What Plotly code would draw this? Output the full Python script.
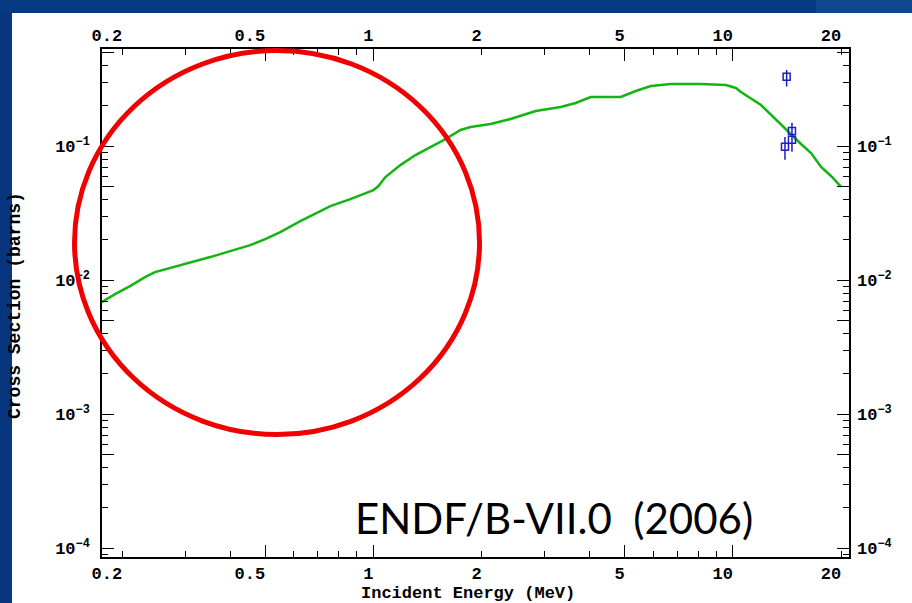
import plotly.graph_objects as go

# ENDF/B-VII.0 evaluated cross section
energy_mev = [0.1758, 0.1911, 0.2104, 0.2316, 0.2470, 0.2720, 0.3092, 0.3516, 0.3996, 0.4544,
              0.5000, 0.5507, 0.6261, 0.7117, 0.7590, 0.8628, 1.0, 1.033, 1.080, 1.189,
              1.309, 1.441, 1.587, 1.747, 1.863, 2.118, 2.407, 2.827, 3.319, 3.653,
              4.022, 4.876, 5.369, 5.911, 6.721, 8.145, 9.561, 10.19, 10.53, 11.97,
              13.18, 14.51, 15.47, 16.50, 17.59, 18.75, 20.0]
xs_barns = [6.88e-3, 7.89e-3, 9.05e-3, 1.057e-2, 1.151e-2, 1.233e-2, 1.343e-2, 1.490e-2, 1.651e-2, 1.831e-2,
            2.030e-2, 2.289e-2, 2.766e-2, 3.284e-2, 3.578e-2, 4.036e-2, 4.711e-2, 5.047e-2, 5.890e-2, 7.239e-2,
            8.60e-2, 9.86e-2, 0.1132, 0.1323, 0.1393, 0.1466, 0.1598, 0.1834, 0.1965, 0.2104,
            0.2333, 0.2333, 0.2587, 0.2818, 0.2917, 0.2917, 0.2867, 0.2723, 0.2542, 0.2033,
            0.1572, 0.1214, 0.1040, 0.0891, 0.0701, 0.0600, 0.0497]

# Experimental points
exp_energy = [14.11, 13.96, 14.60, 14.60]
exp_xs = [0.331, 0.0993, 0.130, 0.112]
exp_err_plus = [0.040, 0.018, 0.020, 0.010]
exp_err_minus = [0.052, 0.020, 0.010, 0.021]

# Axis ticks
x_label_vals = [0.2, 0.5, 1, 2, 5, 10, 20]
x_label_text = ["0.2", "0.5", "1", "2", "5", "10", "20"]
x_short_vals = [0.3, 0.4, 0.6, 0.7, 0.8, 0.9, 3, 4, 6, 7, 8, 9]
x_long_vals = [0.5, 1, 5, 10]
y_decades = [1e-4, 1e-3, 1e-2, 1e-1]
y_label_text = ["10<sup>\u22124</sup>", "10<sup>\u22123</sup>", "10<sup>\u22122</sup>", "10<sup>\u22121</sup>"]
y_long_vals = [1e-4, 5e-4, 1e-3, 5e-3, 1e-2, 5e-2, 1e-1, 5e-1]

x_range = [-0.755, 1.323]
y_range = [-4.065, -0.274]

# tick arrays (labels padded with nbsp so they sit just left of the tick)
x_tvals = x_label_vals + x_short_vals
x_ttext = [t + "\u00a0" * len(t) for t in x_label_text] + [""] * len(x_short_vals)
x_label_padded = [t + "\u00a0" * len(t) for t in x_label_text]
y_short_vals = [9e-5] + [m * d for d in y_decades for m in range(2, 10) if m * d < 0.53]
y_tvals = y_decades + y_short_vals
y_ttext = y_label_text + [""] * len(y_short_vals)

tickfont = dict(family="Liberation Mono", size=17, color="black", weight="bold")
blue = "#1c1cc8"

fig = go.Figure()
fig.add_trace(go.Scatter(x=energy_mev, y=xs_barns, mode="lines",
                         line=dict(color="#14b414", width=2.5), showlegend=False, hoverinfo="x+y"))
fig.add_trace(go.Scatter(x=exp_energy, y=exp_xs, mode="markers",
                         marker=dict(symbol="square-open", size=7, color=blue,
                                     line=dict(width=1.5, color=blue)),
                         error_y=dict(type="data", array=exp_err_plus, arrayminus=exp_err_minus,
                                      color=blue, thickness=1.5, width=0),
                         showlegend=False))
# transparent copies so the label axes (top/right) and long-tick axes are drawn
fig.add_trace(go.Scatter(x=energy_mev, y=xs_barns, mode="lines", xaxis="x2", yaxis="y2",
                         line=dict(width=0), opacity=0, hoverinfo="skip", showlegend=False))
fig.add_trace(go.Scatter(x=energy_mev, y=xs_barns, mode="lines", xaxis="x3", yaxis="y3",
                         line=dict(width=0), opacity=0, hoverinfo="skip", showlegend=False))

common_x = dict(type="log", range=x_range, showgrid=False, zeroline=False, tickmode="array",
                tickcolor="black", tickwidth=1, tickfont=tickfont, fixedrange=True)
common_y = dict(type="log", range=y_range, showgrid=False, zeroline=False, tickmode="array",
                tickcolor="black", tickwidth=1, tickfont=tickfont, fixedrange=True)

fig.update_layout(
    width=912, height=603,
    margin=dict(l=102, r=63, t=49, b=46),
    paper_bgcolor="white", plot_bgcolor="white",
    xaxis=dict(common_x, side="bottom", anchor="y", tickvals=x_tvals, ticktext=x_ttext,
               ticks="inside", ticklen=6, mirror="ticks",
               showline=True, linecolor="black", linewidth=1.5),
    xaxis2=dict(common_x, side="top", anchor="y2", overlaying="x", tickvals=x_label_vals,
                ticktext=x_label_padded, ticks="", showline=False, ticklabelstandoff=4),
    xaxis3=dict(common_x, side="bottom", anchor="y3", overlaying="x", tickvals=x_long_vals,
                ticks="inside", mirror="ticks", showticklabels=False, ticklen=12, showline=False),
    yaxis=dict(common_y, side="left", anchor="x", tickvals=y_tvals, ticktext=y_ttext,
               ticks="inside", ticklen=6, mirror="ticks", ticklabelstandoff=7,
               showline=True, linecolor="black", linewidth=1.5),
    yaxis2=dict(common_y, side="right", anchor="x2", overlaying="y", tickvals=y_decades,
                ticktext=y_label_text, ticks="", showline=False, ticklabelstandoff=7),
    yaxis3=dict(common_y, side="left", anchor="x3", overlaying="y", tickvals=y_long_vals,
                ticks="inside", mirror="ticks", showticklabels=False, ticklen=12, showline=False),
    shapes=[
        dict(type="rect", xref="paper", yref="paper", x0=-0.2, x1=-0.1205, y0=-0.2, y1=1.2,
             fillcolor="#08367e", line=dict(width=0), layer="below"),
        dict(type="rect", xref="paper", yref="paper", x0=-0.2, x1=1.2, y0=1.0709, y1=1.2,
             fillcolor="#083a84", line=dict(width=0), layer="below"),
        dict(type="rect", xref="paper", yref="paper", x0=0.9558, x1=1.2, y0=1.0709, y1=1.2,
             fillcolor="#104890", line=dict(width=0), layer="below"),
        dict(type="circle", xref="paper", yref="paper", x0=-0.0368, x1=0.5054, y0=0.2411, y1=0.9970,
             line=dict(color="#f00000", width=5), layer="above"),
    ],
    annotations=[
        dict(text="Incident Energy (MeV)", xref="paper", yref="paper", x=0.49, y=-0.0728,
             showarrow=False, font=dict(family="Liberation Mono", size=17, color="black", weight="bold"),
             xanchor="center", yanchor="middle"),
        dict(text="Cross Section (barns)", xref="paper", yref="paper", x=-0.1165, y=0.496,
             textangle=-90, showarrow=False,
             font=dict(family="Liberation Mono", size=18, color="black", weight="bold"),
             xanchor="center", yanchor="middle"),
        dict(text="ENDF/B-VII.0 \u00a0(2006)", xref="paper", yref="paper", x=0.605, y=0.0768,
             showarrow=False, font=dict(family="Lato", size=42, color="black"),
             xanchor="center", yanchor="middle"),
    ],
)

fig.write_html("out.html")
